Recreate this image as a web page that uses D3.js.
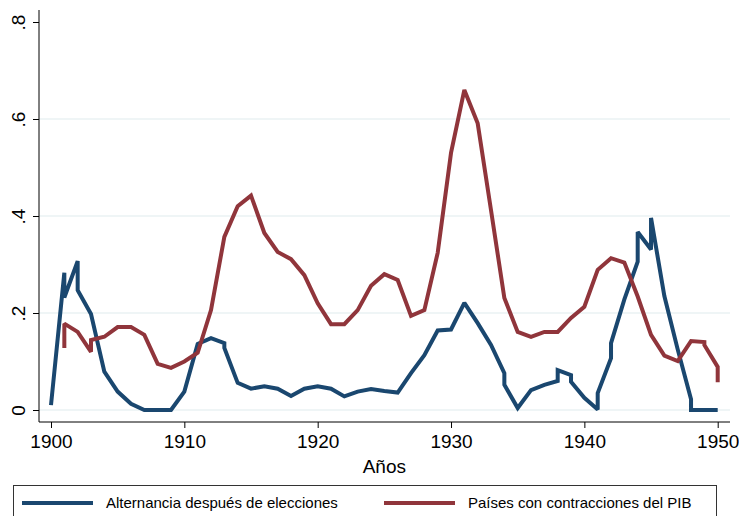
<!DOCTYPE html>
<html>
<head>
<meta charset="utf-8">
<script src="https://cdn.jsdelivr.net/npm/d3@7"></script>
<style>
  body { margin: 0; background: #ffffff; }
  #container { width: 739px; height: 516px; overflow: hidden; }
  text { font-family: "Liberation Sans", Arial, Helvetica, sans-serif; fill: #000; }
</style>
</head>
<body>
<div id="container"></div>
<script>
// series names (legend)
var seriesNames = ["Alternancia después de elecciones", "Países con contracciones del PIB"];

// alternancia: some years have two observations (vertical steps)
var altYears  = [1900, 1901, 1901, 1902, 1902, 1903, 1904, 1905, 1906, 1907, 1908, 1909, 1910, 1911, 1912, 1913, 1913,
                 1914, 1915, 1916, 1917, 1918, 1919, 1920, 1921, 1922, 1923, 1924, 1925, 1926, 1927, 1928, 1929,
                 1930, 1931, 1932, 1933, 1934, 1934, 1935, 1936, 1937, 1938, 1938, 1939, 1939, 1940, 1941, 1941,
                 1942, 1942, 1943, 1944, 1944, 1945, 1945, 1946, 1947, 1948, 1948, 1949, 1950];
var altValues = [0.01, 0.283, 0.232, 0.307, 0.247, 0.198, 0.079, 0.038, 0.013, 0.0, 0.0, 0.0, 0.038, 0.136, 0.148, 0.138, 0.128,
                 0.056, 0.044, 0.049, 0.044, 0.029, 0.044, 0.049, 0.044, 0.028, 0.038, 0.043, 0.039, 0.036, 0.076, 0.113, 0.164,
                 0.166, 0.221, 0.179, 0.134, 0.076, 0.052, 0.004, 0.041, 0.052, 0.060, 0.082, 0.072, 0.058, 0.025, 0.001, 0.035,
                 0.107, 0.138, 0.228, 0.306, 0.367, 0.331, 0.396, 0.235, 0.125, 0.022, 0.0, 0.0, 0.0];

// contracciones del PIB
var pibYears  = [1901, 1901, 1902, 1903, 1903, 1904, 1905, 1906, 1907, 1908, 1909, 1910, 1911, 1912, 1913, 1914, 1915,
                 1916, 1917, 1918, 1919, 1920, 1921, 1922, 1923, 1924, 1925, 1926, 1927, 1928, 1929, 1930, 1931,
                 1932, 1933, 1934, 1935, 1936, 1937, 1938, 1939, 1940, 1941, 1942, 1943, 1944, 1945, 1946, 1947,
                 1948, 1949, 1949, 1950, 1950];
var pibValues = [0.128, 0.178, 0.161, 0.120, 0.144, 0.151, 0.171, 0.171, 0.155, 0.095, 0.087, 0.100, 0.118, 0.206, 0.357, 0.420, 0.442,
                 0.365, 0.326, 0.311, 0.278, 0.220, 0.177, 0.177, 0.206, 0.256, 0.280, 0.268, 0.194, 0.206, 0.324, 0.530, 0.660,
                 0.591, 0.412, 0.231, 0.161, 0.151, 0.161, 0.161, 0.190, 0.213, 0.289, 0.313, 0.304, 0.234, 0.155, 0.112, 0.101,
                 0.142, 0.140, 0.134, 0.089, 0.057];

// axis ticks
var xTickValues = [1900, 1910, 1920, 1930, 1940, 1950];
var yTickValues = [0, 0.2, 0.4, 0.6, 0.8];
var yTickLabels = ["0", ".2", ".4", ".6", ".8"];
var gridValues  = [0, 0.2, 0.4, 0.6];

// colours (stata s2color)
var colors = ["#1a476f", "#90353b"];

// plot region
var width = 739, height = 516;
var plot = {left: 39, right: 730, top: 10, bottom: 422};

var svg = d3.select("#container")
  .append("svg")
  .attr("width", width)
  .attr("height", height);

//defining scales
var x = d3.scaleLinear().domain([1900, 1950]).range([51, 717.7]);
var y = d3.scaleLinear().domain([0, 0.8]).range([410, 22]);

//gridlines
svg.append("g")
  .selectAll("line")
  .data(gridValues)
  .enter().append("line")
  .attr("x1", plot.left)
  .attr("x2", plot.right)
  .attr("y1", function(d) { return y(d); })
  .attr("y2", function(d) { return y(d); })
  .attr("stroke", "#eaf2f3")
  .attr("stroke-width", 1.4);

//x axis
var xAxis = svg.append("g")
  .attr("transform", "translate(0," + plot.bottom + ")")
  .call(d3.axisBottom(x).tickValues(xTickValues).tickSize(6).tickPadding(7).tickFormat(d3.format("d")));
xAxis.select(".domain").remove();
xAxis.selectAll(".tick line").attr("stroke", "#000");
xAxis.selectAll("text").style("font-size", "19px").style("font-family", null);

//y axis
var yAxis = svg.append("g")
  .attr("transform", "translate(" + plot.left + ",0)")
  .call(d3.axisLeft(y).tickValues(yTickValues).tickSize(6).tickFormat(function(d, i) { return yTickLabels[i]; }));
yAxis.select(".domain").remove();
yAxis.selectAll(".tick line").attr("stroke", "#000");
yAxis.selectAll("text")
  .style("font-size", "19px")
  .style("font-family", null)
  .attr("transform", "rotate(-90)")
  .attr("x", 0)
  .attr("y", -14)
  .attr("dy", 0)
  .attr("text-anchor", "middle");

//axis lines
svg.append("line")
  .attr("x1", plot.left).attr("x2", plot.left)
  .attr("y1", plot.top).attr("y2", plot.bottom)
  .attr("stroke", "#000").attr("stroke-width", 1);
svg.append("line")
  .attr("x1", plot.left).attr("x2", plot.right)
  .attr("y1", plot.bottom).attr("y2", plot.bottom)
  .attr("stroke", "#000").attr("stroke-width", 1);

//lines
var line = d3.line()
  .x(function(d) { return x(d[0]); })
  .y(function(d) { return y(d[1]); });

var series = [d3.zip(altYears, altValues), d3.zip(pibYears, pibValues)];

svg.append("g")
  .selectAll("path")
  .data(series)
  .enter().append("path")
  .attr("d", line)
  .attr("fill", "none")
  .attr("stroke", function(d, i) { return colors[i]; })
  .attr("stroke-width", 4)
  .attr("stroke-linejoin", "miter")
  .attr("stroke-miterlimit", 2)
  .attr("stroke-linecap", "butt");

//x axis title
svg.append("text")
  .attr("x", (x(1900) + x(1950)) / 2)
  .attr("y", 473)
  .attr("text-anchor", "middle")
  .style("font-size", "19px")
  .text("Años");

//legend box
svg.append("rect")
  .attr("x", 13.5)
  .attr("y", 485.5)
  .attr("width", 703)
  .attr("height", 50)
  .attr("fill", "#fff")
  .attr("stroke", "#333")
  .attr("stroke-width", 1);

var legendX = [22, 384];
var legend = svg.append("g")
  .selectAll("g")
  .data(seriesNames)
  .enter().append("g")
  .attr("transform", function(d, i) { return "translate(" + legendX[i] + ",503)"; });

legend.append("line")
  .attr("x1", 0).attr("x2", 71)
  .attr("y1", 0).attr("y2", 0)
  .attr("stroke", function(d, i) { return colors[i]; })
  .attr("stroke-width", 4);

legend.append("text")
  .attr("x", 84)
  .attr("y", 5)
  .style("font-size", "15px")
  .text(function(d) { return d; });
</script>
</body>
</html>
